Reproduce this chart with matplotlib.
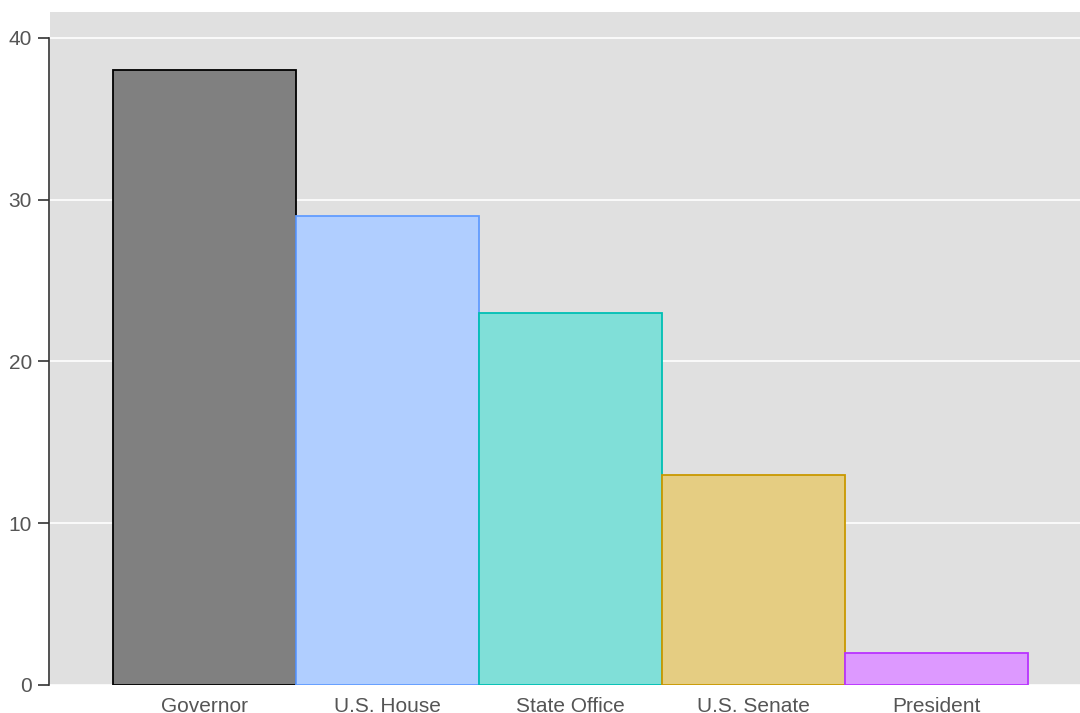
import numpy as np
from matplotlib import pyplot as plt

# office counts
offices = ['Governor', 'U.S. House', 'State Office', 'U.S. Senate', 'President']
counts = [38, 29, 23, 13, 2]
fills = ['#808080', '#b0ceff', '#80dfd8', '#e5cd82', '#dd99ff']
edges = ['#000000', '#619cff', '#00bfb4', '#c99800', '#b933ff']
yticks = [0, 10, 20, 30, 40]

plt.rcParams['font.family'] = ['Liberation Sans', 'DejaVu Sans']

fig = plt.figure(figsize=(10.8, 7.13), dpi=100)
ax = fig.add_axes([50 / 1080, 1 - 685 / 713, 1 - 50 / 1080, (685 - 12) / 713])
ax.set_facecolor('#e0e0e0')

x = np.arange(len(offices))
ax.bar(x, counts, width=1.0, color=fills, edgecolor=edges, linewidth=1.3, zorder=3)

ax.set_xlim(-0.844, 4.784)
ax.set_ylim(0, 41.6)
ax.set_yticks(yticks)
ax.set_xticks(x)
ax.set_xticklabels(offices)
ax.yaxis.grid(True, color='white', linewidth=1.2, zorder=0)
ax.set_axisbelow(True)

for side in ['top', 'right', 'bottom']:
	ax.spines[side].set_visible(False)
ax.spines['left'].set_bounds(0, 40)
ax.spines['left'].set_color('#333333')
ax.spines['left'].set_linewidth(1.2)
ax.spines['left'].set_position(('outward', 1))

ax.tick_params(axis='y', length=8, width=1.2, color='#333333', labelcolor='#555555', labelsize=15, pad=4)
ax.tick_params(axis='x', length=0, labelcolor='#555555', labelsize=15, pad=9)

fig.savefig('out.png', dpi=100)
